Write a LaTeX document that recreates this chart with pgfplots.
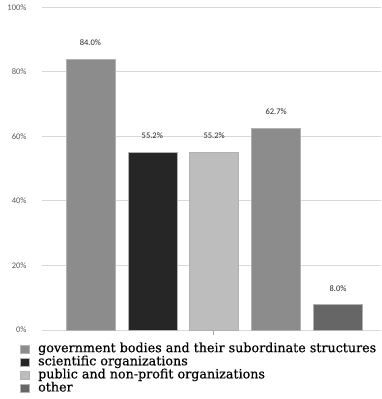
\documentclass[border=0pt]{standalone}
\usepackage{fontspec}
\usepackage{pgfplots}
\pgfplotsset{compat=1.18}
\setmainfont[FakeBold=0.4]{DejaVu Serif}
\newfontfamily\labfont{Carlito}

\definecolor{govgray}{HTML}{8C8C8C}
\definecolor{scidark}{HTML}{262626}
\definecolor{publight}{HTML}{BDBDBD}
\definecolor{othgray}{HTML}{666666}
\definecolor{gridgray}{HTML}{D9D9D9}

\begin{document}
\begin{tikzpicture}
\path[use as bounding box] (0,0) rectangle (381pt,399pt);
\begin{axis}[
  at={(42pt,69pt)}, anchor=south west,
  scale only axis,
  width=339pt, height=322.5pt,
  xmin=-0.782, xmax=4.695,
  ymin=0, ymax=100,
  ybar, bar width=49pt, bar shift=0pt,
  /pgf/number format/assume math mode=true,
  axis line style={draw=none},
  ytick={0,20,...,100},
  yticklabel={\pgfmathprintnumber{\tick}\%},
  yticklabel style={font=\labfont\fontsize{8.5}{9}\selectfont, text=black!65, xshift=-7pt},
  ytick style={draw=none},
  xtick={1.98}, xticklabels={}, xtick pos=bottom,
  xtick style={draw=black!35, line width=0.6pt},
  tick align=outside, major tick length=5pt,
  ymajorgrids,
  grid style={draw=gridgray, line width=1pt},
  nodes near coords={\pgfmathprintnumber[fixed,fixed zerofill,precision=1]{\pgfplotspointmeta}\%},
  every node near coord/.append style={font=\labfont\fontsize{8.5}{9}\selectfont, text=black!85, anchor=center, yshift=16pt},
  legend cell align=left,
  legend style={
    at={(-0.075,-0.034)}, anchor=north west,
    draw=none, fill=none,
    font=\fontsize{12.7}{12.9}\selectfont,
    text=black,
    row sep=1.1pt,
    nodes={inner sep=0pt, text height=9pt, text depth=3pt},
  },
  legend image code/.code={\fill[#1] (0pt,-4pt) rectangle (9pt,4pt);},
]
\addplot[fill=govgray, draw=black!30, line width=0.4pt] coordinates {(0,84.0)};
\addlegendentry{\hspace{9pt}government bodies and their subordinate structures}
\addplot[fill=scidark, draw=black!30, line width=0.4pt] coordinates {(1,55.2)};
\addlegendentry{\hspace{9pt}scientific organizations}
\addplot[fill=publight, draw=black!30, line width=0.4pt] coordinates {(2,55.2)};
\addlegendentry{\hspace{9pt}public and non-profit organizations}
\addplot[fill=govgray, draw=black!30, line width=0.4pt, forget plot] coordinates {(3,62.7)};
\addplot[fill=othgray, draw=black!30, line width=0.4pt] coordinates {(4,8.0)};
\addlegendentry{\hspace{9pt}other}
\end{axis}
\end{tikzpicture}
\end{document}
